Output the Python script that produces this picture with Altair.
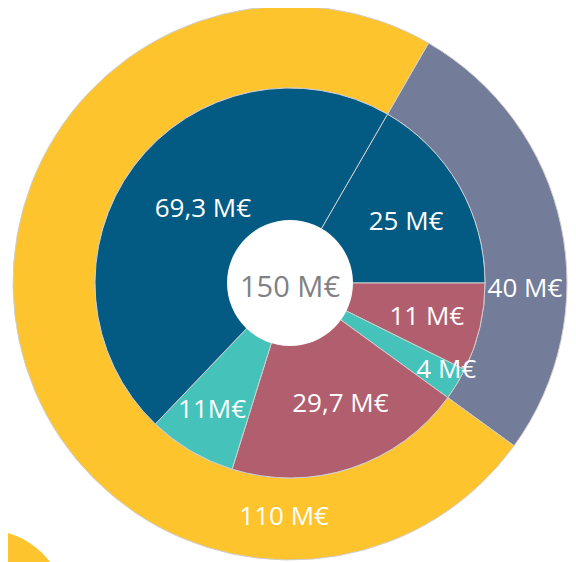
import math
import altair as alt
import pandas as pd

# ---------------- data ----------------
total_label = "150 M€"
total_value = 150

outer_labels = ["40 M€", "110 M€"]
outer_values = [40, 110]
outer_groups = ["grey", "yellow"]

inner_labels = ["25 M€", "11 M€", "4 M€", "29,7 M€", "11M€", "69,3 M€"]
inner_values = [25, 11, 4, 29.7, 11, 69.3]
inner_groups = ["blue", "mauve", "teal", "mauve", "teal", "blue"]

# ---------------- layout / style ----------------
group_names = ["yellow", "grey", "blue", "teal", "mauve"]
group_colors = ["#FEC42E", "#737C99", "#035A82", "#45C2B9", "#B15E6E"]

# where each label sits along its slice (fraction) and at what radius (px)
outer_label_frac = [0.64, 0.21]
outer_label_rad = [235, 234]
inner_label_frac = [0.54, 0.53, 0.29, 0.44, 0.54, 0.52]
inner_label_rad = [131, 141, 179, 131, 149, 114]

CX, CY = 282, 275
R_OUT, R_MID, R_HOLE = 277, 195, 63
START = math.pi / 6
FONT = "Open Sans"


def ring(values, labels, groups, fracs, rads):
    rows, acc = [], 0.0
    for v, lab, g, f, r in zip(values, labels, groups, fracs, rads):
        rows.append(dict(start=acc, end=acc + v, label=lab, group=g,
                         lab_t=acc + f * v, lab_r=r))
        acc += v
    return pd.DataFrame(rows)


outer_df = ring(outer_values, outer_labels, outer_groups, outer_label_frac, outer_label_rad)
inner_df = ring(inner_values, inner_labels, inner_groups, inner_label_frac, inner_label_rad)
labels_df = pd.concat([outer_df, inner_df], ignore_index=True)
center_df = pd.DataFrame({"label": [total_label]})

theta_scale = alt.Scale(domain=[0, total_value], range=[START, START + 2 * math.pi])
color_scale = alt.Scale(domain=group_names, range=group_colors)


def arcs(df, r_outer, r_inner):
    return alt.Chart(df).mark_arc(
        radius=r_outer, radius2=r_inner, stroke="#CFCFCF", strokeWidth=1
    ).encode(
        theta=alt.Theta("start:Q", scale=theta_scale, stack=False),
        theta2="end:Q",
        color=alt.Color("group:N", scale=color_scale, legend=None),
        x=alt.value(CX), y=alt.value(CY),
    )


outer = arcs(outer_df, R_OUT, R_MID)
inner = arcs(inner_df, R_MID, 0)

hole = alt.Chart(center_df).mark_arc(
    radius=R_HOLE, theta=0, theta2=2 * math.pi, color="white", strokeWidth=0
).encode(x=alt.value(CX), y=alt.value(CY))

deco = alt.Chart(center_df).mark_arc(
    radius=80, theta=0, theta2=2 * math.pi, color=group_colors[0], strokeWidth=0
).encode(x=alt.value(-22), y=alt.value(602))

text = alt.Chart(labels_df).mark_text(
    font=FONT, fontSize=26, color="white", align="center", baseline="middle"
).encode(
    theta=alt.Theta("lab_t:Q", scale=theta_scale, stack=False),
    radius=alt.Radius("lab_r:Q", scale=None),
    text="label:N",
    x=alt.value(CX), y=alt.value(CY),
)

center_text = alt.Chart(center_df).mark_text(
    font=FONT, fontSize=29, color="#7F8185", align="center", baseline="middle", dy=5
).encode(text="label:N", x=alt.value(CX), y=alt.value(CY))

chart = alt.layer(outer, inner, hole, text, center_text, deco).properties(
    width=560, height=554, padding=0, autosize="none", background="white"
).configure_view(stroke=None)

chart.save("out.html", embed_options={"renderer": "svg", "actions": False})
